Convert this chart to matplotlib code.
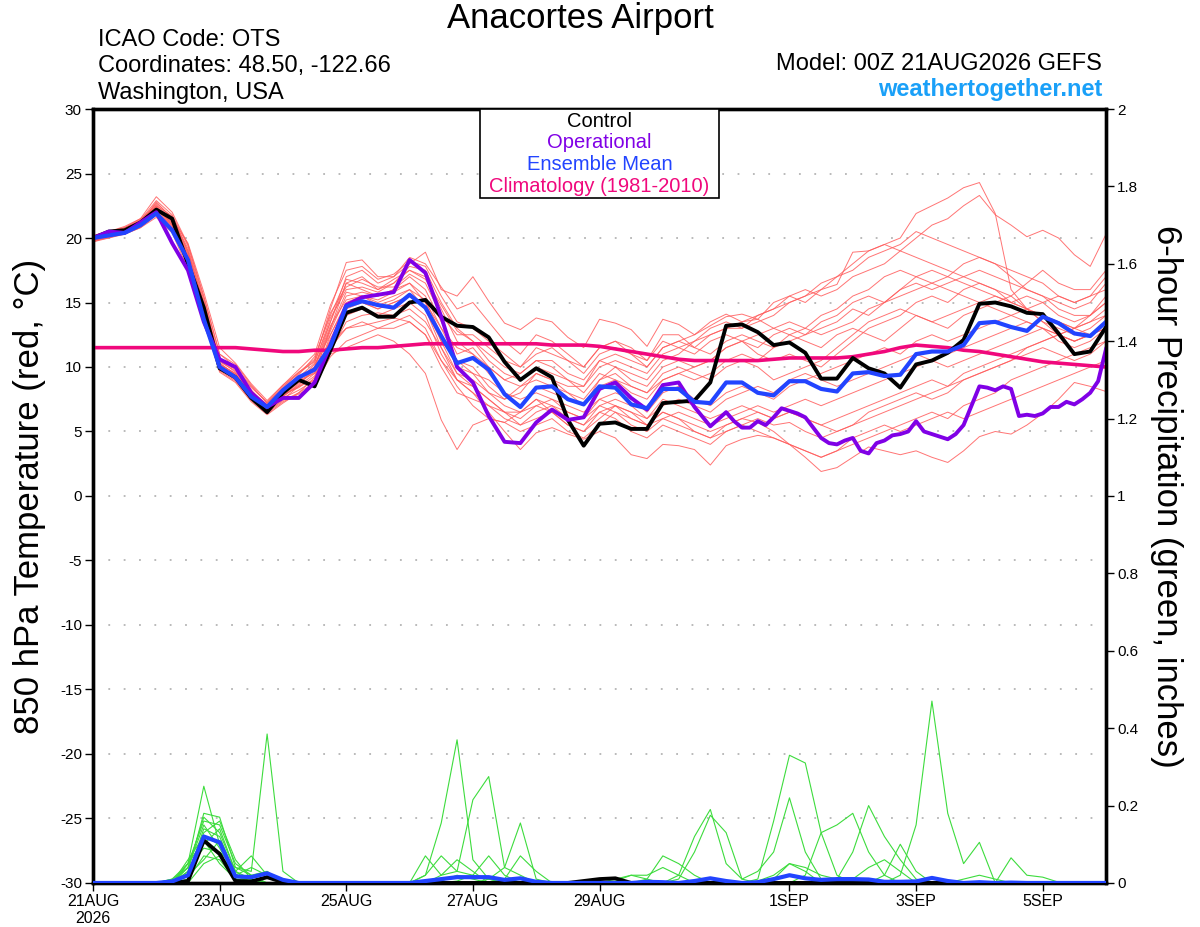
import numpy as np
import matplotlib
matplotlib.use('Agg')
import matplotlib.pyplot as plt
from matplotlib.patches import Rectangle

plt.rcParams['font.family'] = ['Liberation Sans', 'DejaVu Sans']
plt.rcParams['axes.unicode_minus'] = False

# ---------------- data (6-hourly steps from 00Z 21AUG2026) ----------------
TICK_DAYS = [0, 2, 4, 6, 8, 11, 13, 15]
TICK_LABELS = ['21AUG\n2026', '23AUG', '25AUG', '27AUG', '29AUG', '1SEP', '3SEP', '5SEP']

CONTROL_T = [20.0, 20.5, 20.6, 21.2, 22.2, 21.5, 18.0, 14.6,
             9.9, 9.2, 7.6, 6.5, 8.0, 9.0, 8.5, 11.3,
             14.2, 14.6, 13.9, 13.9, 15.0, 15.2, 13.9, 13.2,
             13.1, 12.3, 10.4, 9.0, 9.9, 9.2, 5.9, 3.9,
             5.6, 5.7, 5.2, 5.2, 7.2, 7.3, 7.4, 8.8,
             13.2, 13.3, 12.7, 11.7, 11.9, 11.1, 9.1, 9.1,
             10.7, 9.9, 9.5, 8.4, 10.2, 10.5, 11.1, 12.1,
             14.9, 15.0, 14.7, 14.2, 14.1, 12.6, 11.0, 11.2, 13.1]

MEAN_T = [20.0, 20.2, 20.4, 21.0, 21.9, 20.6, 18.3, 13.7,
          10.0, 9.2, 7.7, 6.9, 8.2, 9.2, 9.8, 11.6,
          14.7, 15.1, 14.8, 14.6, 15.6, 14.6, 12.4, 10.3,
          10.7, 9.8, 7.9, 6.9, 8.4, 8.5, 7.5, 7.1,
          8.5, 8.4, 7.1, 6.8, 8.3, 8.3, 7.3, 7.2,
          8.8, 8.8, 8.0, 7.8, 8.9, 8.9, 8.3, 8.1,
          9.5, 9.6, 9.3, 9.4, 11.0, 11.2, 11.2, 11.7,
          13.4, 13.5, 13.1, 12.8, 13.9, 13.4, 12.6, 12.4, 13.5]

CLIM_T = [11.5, 11.5, 11.5, 11.5, 11.5, 11.5, 11.5, 11.5,
          11.5, 11.5, 11.4, 11.3, 11.2, 11.2, 11.3, 11.3,
          11.4, 11.5, 11.5, 11.6, 11.7, 11.8, 11.8, 11.8,
          11.8, 11.8, 11.8, 11.8, 11.8, 11.7, 11.7, 11.7,
          11.6, 11.4, 11.2, 11.0, 10.8, 10.6, 10.5, 10.5,
          10.5, 10.5, 10.5, 10.6, 10.7, 10.7, 10.7, 10.7,
          10.8, 11.0, 11.2, 11.5, 11.7, 11.6, 11.5, 11.3,
          11.2, 11.0, 10.8, 10.6, 10.4, 10.3, 10.2, 10.1, 10.0]

# operational: 6-hourly to step 40, then 3-hourly (half steps)
OPER_STEPS = list(range(41)) + [40.5 + 0.5 * i for i in range(48)]
OPER_T = [20.0, 20.5, 20.4, 21.2, 22.0, 19.6, 17.5, 13.5,
          10.6, 10.0, 8.0, 6.9, 7.6, 7.6, 8.8, 11.7,
          14.8, 15.4, 15.6, 15.8, 18.3, 17.3, 13.9, 10.0,
          8.8, 6.2, 4.2, 4.1, 5.7, 6.7, 5.9, 6.1,
          8.3, 8.8, 7.6, 6.7, 8.6, 8.8, 6.9, 5.4,
          6.5,
          5.8, 5.3, 5.3, 5.8, 5.5, 6.1, 6.8, 6.6, 6.4, 6.1,
          5.3, 4.5, 4.1, 4.0, 4.3, 4.5, 3.5, 3.3, 4.1, 4.3,
          4.7, 4.8, 5.0, 5.8, 5.0, 4.8, 4.6, 4.4, 4.8, 5.5,
          7.0, 8.5, 8.4, 8.2, 8.5, 8.3, 6.2, 6.3, 6.2, 6.4,
          6.9, 6.9, 7.3, 7.1, 7.5, 8.0, 8.9, 11.4]

MEMBERS_T = [
    [19.8, 20.2, 20.5, 21.0, 22.5, 21.0, 18.5, 14.5, 10.2, 9.5, 8.0, 6.8, 7.8, 8.5, 9.0, 12.5,
     15.0, 15.5, 15.2, 15.8, 16.5, 15.0, 12.0, 10.5, 10.0, 8.5, 7.5, 8.0, 9.5, 9.0, 8.0, 7.0,
     9.0, 10.0, 9.5, 9.0, 10.5, 11.0, 12.0, 13.0, 13.5, 13.0, 14.0, 14.5, 15.5, 15.0, 16.0, 16.4,
     18.9, 19.0, 19.5, 20.0, 21.9, 22.5, 23.1, 23.9, 24.3, 21.9, 16.0, 14.5, 13.5, 12.5, 12.0, 12.5, 13.0],
    [20.0, 20.4, 20.6, 21.2, 22.8, 21.5, 19.0, 15.0, 10.5, 9.8, 8.2, 7.0, 8.2, 9.0, 9.5, 13.0,
     16.5, 16.0, 15.5, 16.0, 17.0, 16.0, 13.5, 11.0, 11.5, 10.0, 9.0, 9.5, 10.5, 10.0, 9.0, 8.5,
     10.5, 11.0, 10.5, 10.0, 11.5, 12.0, 12.5, 13.5, 14.1, 13.5, 13.7, 15.0, 15.5, 16.0, 15.5, 16.0,
     17.0, 17.5, 18.0, 19.0, 20.0, 21.0, 21.5, 22.5, 23.3, 21.8, 21.0, 20.1, 20.6, 20.0, 18.7, 17.8, 20.3],
    [19.7, 20.0, 20.3, 20.8, 21.8, 20.5, 18.0, 13.5, 9.8, 9.0, 7.5, 6.5, 7.5, 8.5, 9.5, 11.0,
     11.5, 12.0, 12.5, 12.0, 11.0, 9.5, 5.9, 3.6, 5.5, 6.0, 5.7, 5.0, 5.5, 6.0, 5.0, 4.5,
     5.5, 6.5, 6.0, 5.5, 6.5, 6.0, 5.0, 4.5, 5.0, 5.5, 6.0, 5.5, 5.7, 5.0, 4.5, 5.0,
     5.5, 6.0, 6.5, 7.0, 7.5, 8.0, 8.5, 9.0, 9.5, 10.0, 10.5, 11.0, 11.5, 11.0, 10.5, 11.0, 12.0],
    [20.1, 20.5, 20.8, 21.5, 23.2, 22.0, 19.5, 15.5, 11.0, 10.0, 8.5, 7.2, 8.5, 9.5, 10.5, 14.5,
     18.1, 18.3, 17.0, 17.0, 18.5, 18.0, 16.2, 14.5, 15.0, 13.5, 12.0, 11.0, 12.5, 12.0, 11.0, 10.0,
     11.5, 12.0, 11.0, 10.5, 12.0, 11.5, 11.0, 12.0, 12.5, 12.0, 11.5, 12.5, 13.0, 12.5, 13.5, 14.0,
     15.0, 15.5, 15.0, 16.0, 17.0, 17.5, 17.0, 18.0, 18.5, 18.0, 17.5, 17.0, 16.5, 15.5, 15.0, 15.5, 17.0],
    [19.9, 20.3, 20.6, 21.3, 22.5, 21.7, 19.0, 14.8, 10.5, 9.6, 8.2, 6.9, 8.0, 9.0, 10.0, 13.5,
     17.0, 17.5, 16.5, 17.0, 18.0, 18.9, 16.0, 15.5, 17.0, 15.1, 13.4, 12.9, 13.8, 13.5, 12.3, 11.5,
     13.7, 13.4, 12.9, 11.6, 13.7, 13.3, 12.5, 13.2, 13.9, 14.1, 13.7, 13.0, 12.5, 12.0, 11.5, 12.5,
     13.0, 12.5, 12.0, 13.0, 14.0, 13.5, 13.0, 14.0, 14.5, 15.0, 15.5, 14.5, 13.5, 13.0, 12.5, 13.0, 14.0],
    [19.8, 20.1, 20.4, 21.0, 22.0, 20.8, 18.2, 14.0, 10.0, 9.2, 7.8, 6.6, 7.6, 8.2, 9.0, 11.5,
     13.0, 13.5, 13.0, 13.5, 14.0, 13.0, 10.5, 8.5, 7.0, 6.0, 5.7, 6.5, 7.5, 6.5, 5.5, 5.0,
     6.0, 7.0, 6.0, 5.5, 6.5, 6.0, 5.5, 5.0, 5.5, 6.0, 5.7, 5.0, 4.0, 3.0, 1.9, 2.2,
     3.0, 3.8, 3.5, 3.2, 3.5, 3.0, 2.6, 3.5, 4.6, 5.0, 4.8, 5.5, 6.4, 7.5, 8.8, 8.5, 8.1],
    [20.0, 20.3, 20.5, 21.1, 22.2, 21.2, 18.8, 14.3, 10.3, 9.4, 7.9, 6.7, 7.7, 8.6, 9.8, 12.0,
     14.0, 14.5, 14.0, 14.5, 15.0, 14.0, 11.0, 9.0, 8.0, 6.5, 5.0, 3.6, 4.9, 5.3, 4.8, 4.4,
     5.0, 4.5, 3.2, 2.9, 4.0, 3.9, 3.6, 2.4, 3.9, 4.4, 4.7, 4.5, 4.0, 3.5, 3.0, 3.5,
     4.0, 4.5, 5.0, 5.5, 6.0, 6.5, 6.0, 7.0, 7.5, 8.0, 9.0, 9.5, 10.0, 10.5, 11.0, 11.5, 12.0],
    [19.9, 20.2, 20.7, 21.4, 22.6, 21.3, 18.6, 14.6, 10.1, 9.3, 7.7, 6.8, 8.1, 9.2, 10.3, 13.8,
     16.0, 16.2, 15.8, 16.5, 17.5, 17.0, 14.5, 12.0, 11.0, 9.5, 8.0, 7.0, 8.5, 8.0, 7.5, 7.0,
     8.5, 9.0, 8.0, 7.5, 9.0, 9.5, 9.0, 9.5, 10.5, 11.0, 10.5, 11.5, 12.0, 12.5, 13.0, 13.5,
     14.5, 14.0, 15.0, 16.0, 16.5, 16.0, 16.5, 17.0, 17.5, 17.0, 16.5, 16.0, 15.5, 15.0, 14.5, 15.0, 16.5],
    [20.0, 20.4, 20.7, 21.2, 22.1, 20.9, 18.3, 14.2, 9.9, 9.0, 7.6, 6.5, 7.4, 8.0, 8.8, 11.2,
     13.5, 14.0, 14.2, 14.0, 14.5, 13.5, 11.5, 9.5, 9.0, 8.0, 7.0, 6.5, 7.0, 6.5, 6.0, 5.5,
     7.0, 7.5, 7.0, 6.0, 7.5, 7.0, 6.5, 6.0, 6.5, 7.0, 6.5, 6.0, 6.5, 6.0, 5.5, 6.0,
     6.5, 7.0, 7.5, 8.0, 8.5, 9.0, 8.5, 9.5, 10.0, 10.5, 11.0, 11.5, 12.0, 12.5, 12.0, 12.5, 13.0],
    [19.8, 20.2, 20.5, 21.0, 22.3, 21.1, 18.4, 14.1, 10.0, 9.1, 7.7, 6.6, 7.8, 8.8, 9.6, 12.8,
     15.5, 15.8, 15.5, 16.0, 16.5, 15.5, 13.0, 10.5, 9.5, 8.0, 7.5, 8.5, 9.5, 9.0, 8.5, 8.5,
     10.0, 10.5, 10.0, 9.5, 11.0, 11.5, 12.0, 12.5, 13.0, 13.5, 14.0, 14.5, 15.0, 15.5, 16.5, 17.0,
     17.5, 18.5, 19.0, 19.5, 20.5, 20.0, 19.5, 19.0, 18.5, 18.0, 17.0, 16.0, 15.5, 14.5, 14.0, 14.0, 15.0],
    [20.1, 20.4, 20.8, 21.3, 22.4, 21.4, 18.9, 14.9, 10.4, 9.7, 8.1, 7.1, 8.3, 9.4, 10.8, 14.0,
     16.8, 16.5, 16.0, 16.5, 17.8, 17.5, 15.0, 13.0, 12.0, 11.0, 10.0, 9.5, 10.5, 10.5, 9.5, 9.0,
     10.5, 10.0, 9.0, 8.5, 10.0, 10.5, 10.0, 10.5, 11.5, 12.0, 11.0, 10.5, 11.0, 10.5, 10.0, 11.0,
     12.0, 13.0, 13.5, 14.0, 15.0, 15.5, 15.0, 16.0, 16.5, 16.0, 15.0, 14.5, 14.0, 13.5, 13.0, 13.5, 14.5],
    [19.7, 20.1, 20.4, 20.9, 21.8, 20.6, 17.8, 13.8, 9.7, 8.9, 7.4, 6.4, 7.3, 7.9, 8.6, 10.8,
     12.0, 12.5, 13.0, 13.0, 13.5, 12.5, 10.0, 8.0, 7.5, 7.0, 6.5, 5.5, 6.0, 6.5, 5.5, 5.0,
     6.5, 6.0, 5.0, 4.5, 5.5, 5.0, 4.5, 4.0, 5.0, 5.5, 5.0, 4.5, 4.0, 3.5, 3.0, 3.5,
     4.5, 5.0, 5.5, 5.0, 5.5, 6.0, 6.5, 6.0, 6.5, 7.0, 7.5, 8.0, 8.5, 9.0, 9.5, 10.0, 10.5],
    [20.0, 20.3, 20.6, 21.1, 22.0, 21.0, 18.5, 14.4, 10.2, 9.5, 8.0, 6.9, 8.2, 9.1, 10.0, 13.2,
     15.2, 15.5, 14.8, 15.2, 16.0, 15.2, 12.5, 10.0, 9.5, 9.0, 8.0, 7.5, 8.0, 7.5, 7.0, 6.5,
     7.5, 8.0, 7.5, 6.5, 8.0, 8.5, 7.5, 7.0, 8.0, 8.5, 8.0, 7.5, 8.5, 9.0, 9.5, 10.0,
     10.5, 11.0, 11.5, 11.0, 12.0, 12.5, 12.0, 12.5, 13.0, 13.5, 14.0, 13.5, 13.0, 12.5, 12.0, 12.5, 13.5],
    [19.9, 20.2, 20.5, 21.2, 22.7, 21.6, 19.2, 15.2, 10.6, 9.9, 8.4, 7.3, 8.6, 9.8, 11.0, 14.8,
     17.5, 17.8, 16.8, 17.2, 18.2, 17.8, 15.5, 13.5, 13.0, 12.0, 11.0, 10.0, 11.5, 11.0, 10.5, 9.5,
     11.0, 11.5, 11.0, 10.0, 11.5, 12.0, 11.5, 12.5, 13.0, 13.0, 13.5, 14.0, 15.0, 15.5, 16.0, 17.0,
     18.0, 19.0, 19.5, 19.0, 18.5, 18.0, 17.5, 17.0, 16.5, 16.0, 15.5, 16.5, 17.5, 16.5, 16.0, 16.0, 17.5],
    [19.8, 20.1, 20.3, 20.8, 21.6, 20.4, 17.6, 13.6, 9.6, 8.8, 7.3, 6.3, 7.2, 8.0, 9.2, 12.2,
     14.5, 15.0, 14.5, 15.0, 15.5, 14.5, 12.0, 9.5, 8.5, 7.5, 6.5, 6.0, 7.0, 7.5, 6.5, 6.0,
     7.5, 7.0, 6.5, 5.5, 6.0, 6.5, 6.0, 5.5, 6.0, 6.5, 7.0, 6.5, 7.0, 7.5, 7.0, 7.5,
     8.0, 8.5, 9.0, 9.5, 10.0, 10.5, 11.0, 11.5, 12.0, 12.5, 13.0, 13.5, 13.0, 12.5, 13.0, 13.5, 14.0],
    [20.2, 20.5, 20.8, 21.4, 22.9, 21.8, 19.4, 15.4, 11.0, 10.2, 8.6, 7.2, 8.4, 9.6, 10.6, 14.2,
     16.2, 16.8, 16.2, 16.2, 17.2, 16.5, 14.0, 12.5, 12.5, 11.5, 10.5, 10.0, 11.0, 11.5, 10.5, 10.0,
     11.5, 12.0, 11.5, 10.5, 12.5, 12.5, 11.5, 11.0, 12.0, 12.5, 12.0, 11.5, 12.5, 13.0, 14.0, 14.5,
     15.5, 16.0, 17.0, 17.5, 17.0, 16.5, 16.0, 15.5, 15.0, 14.5, 14.0, 14.5, 15.0, 15.5, 15.0, 15.5, 16.0],
    [19.9, 20.3, 20.6, 21.1, 22.2, 21.0, 18.0, 14.0, 9.8, 9.1, 7.6, 6.6, 7.7, 8.7, 9.9, 13.0,
     15.8, 15.5, 15.0, 15.5, 16.0, 14.5, 11.5, 9.0, 8.5, 7.5, 6.5, 6.5, 7.5, 7.0, 6.0, 5.5,
     6.5, 7.0, 6.5, 6.0, 7.0, 7.5, 7.0, 6.5, 7.5, 8.0, 8.5, 8.0, 9.0, 9.5, 9.0, 8.5,
     9.0, 9.5, 10.0, 10.5, 11.0, 10.5, 10.0, 10.5, 11.0, 11.5, 12.0, 12.5, 13.0, 12.0, 11.5, 12.0, 13.0],
    [20.0, 20.5, 20.9, 21.5, 22.4, 21.2, 18.7, 14.7, 10.3, 9.4, 8.0, 6.8, 7.9, 8.9, 10.2, 12.5,
     14.8, 15.0, 14.5, 15.0, 15.5, 15.0, 13.0, 11.5, 11.0, 10.0, 9.0, 8.5, 9.0, 8.5, 8.0, 7.5,
     9.0, 9.5, 8.5, 8.0, 9.5, 10.0, 9.5, 9.0, 10.0, 10.5, 10.0, 9.0, 9.5, 10.0, 10.5, 11.5,
     12.5, 13.5, 14.0, 14.5, 14.0, 13.5, 14.0, 14.5, 15.0, 15.5, 15.0, 14.5, 14.0, 13.5, 13.0, 12.5, 13.5],
    [19.8, 20.0, 20.4, 21.0, 22.0, 20.7, 18.1, 14.2, 10.0, 9.2, 7.9, 6.8, 7.9, 8.4, 9.3, 11.8,
     13.0, 13.2, 13.5, 13.8, 13.5, 12.5, 10.5, 9.0, 8.0, 7.0, 6.0, 5.5, 6.5, 7.0, 6.5, 6.0,
     7.0, 6.5, 5.5, 5.0, 6.0, 5.5, 5.0, 4.5, 5.5, 6.0, 6.5, 6.0, 6.5, 6.0, 5.5, 5.0,
     5.5, 6.5, 7.0, 7.5, 8.0, 7.5, 8.0, 9.0, 9.5, 10.0, 10.5, 11.5, 12.0, 12.5, 13.0, 14.0, 15.0],
    [20.1, 20.3, 20.6, 21.2, 22.3, 21.5, 19.6, 15.8, 11.5, 10.3, 8.7, 7.4, 8.6, 9.6, 10.4, 13.5,
     16.5, 17.0, 16.0, 16.8, 17.5, 16.8, 14.8, 12.8, 12.0, 10.5, 9.5, 9.0, 10.0, 9.5, 9.0, 8.0,
     9.5, 9.0, 8.5, 8.0, 9.0, 9.5, 10.0, 10.5, 11.5, 12.0, 12.5, 13.0, 13.5, 13.0, 12.5, 13.0,
     13.5, 14.5, 15.0, 15.5, 16.0, 16.5, 17.0, 16.5, 16.0, 15.5, 15.0, 15.5, 15.0, 14.0, 13.5, 14.0, 15.5],
]

# 6-hour precipitation (inches), listed as {step: value}; unlisted steps are 0
CONTROL_P = {6: 0.005, 7: 0.11, 8: 0.075, 9: 0.005, 10: 0.004, 11: 0.015, 12: 0.002,
             31: 0.005, 32: 0.01, 33: 0.012}
MEAN_P = {5: 0.004, 6: 0.02, 7: 0.12, 8: 0.105, 9: 0.017, 10: 0.015, 11: 0.025, 12: 0.008,
          21: 0.005, 22: 0.01, 23: 0.015, 24: 0.015, 25: 0.015, 26: 0.008, 27: 0.012, 28: 0.003,
          35: 0.003, 36: 0.002, 38: 0.005, 39: 0.012, 40: 0.005, 42: 0.002, 43: 0.01,
          44: 0.02, 45: 0.012, 46: 0.008, 47: 0.01, 48: 0.01, 49: 0.009, 50: 0.003, 51: 0.003,
          52: 0.004, 53: 0.013, 54: 0.005, 56: 0.002, 58: 0.001}
MEMBERS_P = [
    {5: 0.01, 6: 0.05, 7: 0.25, 8: 0.10, 9: 0.02, 10: 0.01, 21: 0.02, 22: 0.155, 23: 0.37,
     24: 0.06, 25: 0.01, 37: 0.02, 38: 0.12, 39: 0.19, 40: 0.05, 41: 0.01},
    {6: 0.03, 7: 0.18, 8: 0.17, 9: 0.04, 10: 0.03, 11: 0.385, 12: 0.03, 22: 0.02, 23: 0.03,
     24: 0.215, 25: 0.275, 26: 0.04, 27: 0.02, 42: 0.01, 43: 0.16, 44: 0.33, 45: 0.31,
     46: 0.13, 47: 0.02},
    {6: 0.04, 7: 0.17, 8: 0.13, 9: 0.03, 10: 0.07, 11: 0.02, 25: 0.01, 26: 0.04, 27: 0.155,
     28: 0.01, 35: 0.01, 36: 0.07, 37: 0.05, 38: 0.02, 51: 0.02, 52: 0.15, 53: 0.47, 54: 0.18,
     55: 0.05, 56: 0.105, 58: 0.065, 59: 0.02, 60: 0.015, 61: 0.002},
    {6: 0.05, 7: 0.16, 8: 0.15, 9: 0.05, 10: 0.02, 21: 0.07, 22: 0.02, 23: 0.06, 24: 0.03,
     37: 0.01, 38: 0.08, 39: 0.175, 40: 0.13, 41: 0.01, 42: 0.03, 43: 0.08, 44: 0.22,
     45: 0.08, 46: 0.01},
    {6: 0.02, 7: 0.14, 8: 0.12, 9: 0.02, 21: 0.02, 22: 0.07, 23: 0.03, 24: 0.02, 25: 0.07,
     26: 0.02, 45: 0.02, 46: 0.13, 47: 0.15, 48: 0.18, 49: 0.08, 50: 0.02},
    {6: 0.06, 7: 0.12, 8: 0.10, 9: 0.01, 10: 0.01, 47: 0.01, 48: 0.08, 49: 0.20, 50: 0.12,
     51: 0.06, 52: 0.01},
    {6: 0.03, 7: 0.10, 8: 0.14, 9: 0.03, 26: 0.01, 27: 0.07, 28: 0.03, 43: 0.01, 44: 0.05,
     45: 0.03, 50: 0.02, 51: 0.10, 52: 0.03},
    {5: 0.01, 6: 0.04, 7: 0.09, 8: 0.08, 9: 0.04, 10: 0.02, 11: 0.03, 33: 0.005, 34: 0.02,
     35: 0.02, 36: 0.04, 37: 0.02},
    {6: 0.01, 7: 0.07, 8: 0.06, 9: 0.01, 42: 0.005, 43: 0.02, 44: 0.05, 45: 0.04, 46: 0.02,
     47: 0.01},
    {6: 0.02, 7: 0.06, 8: 0.11, 9: 0.02, 10: 0.04, 11: 0.02, 22: 0.005, 23: 0.02, 24: 0.01},
    {6: 0.04, 7: 0.15, 8: 0.09, 9: 0.02, 48: 0.01, 49: 0.04, 50: 0.06, 51: 0.03},
    {7: 0.05, 8: 0.07, 9: 0.03, 10: 0.01, 33: 0.01, 34: 0.02, 35: 0.01},
    {6: 0.02, 7: 0.13, 8: 0.16, 9: 0.06, 10: 0.01, 55: 0.01, 56: 0.02, 57: 0.01},
    {6: 0.05, 7: 0.11, 8: 0.05, 9: 0.01, 23: 0.005, 24: 0.02, 25: 0.01},
]

N_STEPS = 65
STEP_DAYS = 0.25

# ---------------- styling ----------------
RED = '#ff5c5c'
GREEN = '#3ddc3d'
PURPLE = '#8000e6'
BLUE = '#2244ff'
PINK = '#f0087c'
SITE_BLUE = '#1aa0f8'


def steps_to_days(steps):
    return np.asarray(steps, dtype=float) * STEP_DAYS


def precip_series(d):
    arr = np.zeros(N_STEPS)
    for k, v in d.items():
        arr[k] = v
    return arr


days = steps_to_days(range(N_STEPS))

fig = plt.figure(figsize=(12, 9.27), dpi=100)
ax = fig.add_axes([0.0775, 0.0475, 0.8442, 0.8349])
ax2 = ax.twinx()

# grid
for g in range(-25, 30, 5):
    ax.axhline(g, color='#b4b4b4', lw=1.3, dashes=(1.0, 7.5), zorder=1)

# ensemble members temperature
for m in MEMBERS_T:
    ax.plot(days, m, color=RED, lw=0.7, alpha=0.85, zorder=2)

ax.plot(days, CLIM_T, color=PINK, lw=2.6, zorder=3)
ax.plot(days, CONTROL_T, color='black', lw=2.8, zorder=4)
ax.plot(steps_to_days(OPER_STEPS), OPER_T, color=PURPLE, lw=2.8, zorder=5)
ax.plot(days, MEAN_T, color=BLUE, lw=3.0, zorder=6)

# precipitation
for m in MEMBERS_P:
    ax2.plot(days, precip_series(m), color=GREEN, lw=0.8, zorder=2)
ax2.plot(days, precip_series(CONTROL_P), color='black', lw=2.8, zorder=4)
ax2.plot(days, precip_series(MEAN_P), color=BLUE, lw=3.0, zorder=5)

ax.set_xlim(0, 16)
ax.set_ylim(-30, 30)
ax2.set_ylim(0, 2)

ax.set_yticks(range(-30, 31, 5))
ax2.set_yticks(np.round(np.arange(0, 2.01, 0.2), 1))
ax2.set_yticklabels(['0', '0.2', '0.4', '0.6', '0.8', '1', '1.2', '1.4', '1.6', '1.8', '2'])
ax.set_xticks(TICK_DAYS)
ax.set_xticklabels(TICK_LABELS)

for a in (ax, ax2):
    for s in a.spines.values():
        s.set_linewidth(2.4)
        s.set_color('black')
    a.tick_params(axis='both', labelsize=11, length=6, width=1.0, direction='out', pad=2)
ax.tick_params(axis='x', labelsize=11.5)

ax.set_ylabel('850 hPa Temperature (red, \u00b0C)', fontsize=25, labelpad=10)
ax2.set_ylabel('6-hour Precipitation (green, inches)', fontsize=25, rotation=-90,
               labelpad=32)

# legend box
ax2.add_patch(Rectangle((0.382, 0.885), 0.236, 0.115, transform=ax.transAxes,
                        facecolor='white', edgecolor='black', lw=1.2, zorder=10))
leg_items = [('Control', 'black', 0.9845), ('Operational', PURPLE, 0.9565),
             ('Ensemble Mean', BLUE, 0.928), ('Climatology (1981-2010)', PINK, 0.9005)]
for txt, col, yy in leg_items:
    ax2.text(0.5, yy, txt, color=col, fontsize=14.5, ha='center', va='center',
             transform=ax.transAxes, zorder=11)

# header texts
fig.text(0.484, 0.980, 'Anacortes Airport', fontsize=25, ha='center', va='center')
fig.text(0.0815, 0.957, 'ICAO Code: OTS', fontsize=17, ha='left', va='center')
fig.text(0.0815, 0.929, 'Coordinates: 48.50, -122.66', fontsize=17, ha='left', va='center')
fig.text(0.0815, 0.900, 'Washington, USA', fontsize=17, ha='left', va='center')
fig.text(0.9185, 0.931, 'Model: 00Z 21AUG2026 GEFS', fontsize=17, ha='right', va='center')
fig.text(0.9185, 0.903, 'weathertogether.net', fontsize=17, ha='right', va='center',
         color=SITE_BLUE, fontweight='bold')

fig.savefig('out.png', dpi=100)
